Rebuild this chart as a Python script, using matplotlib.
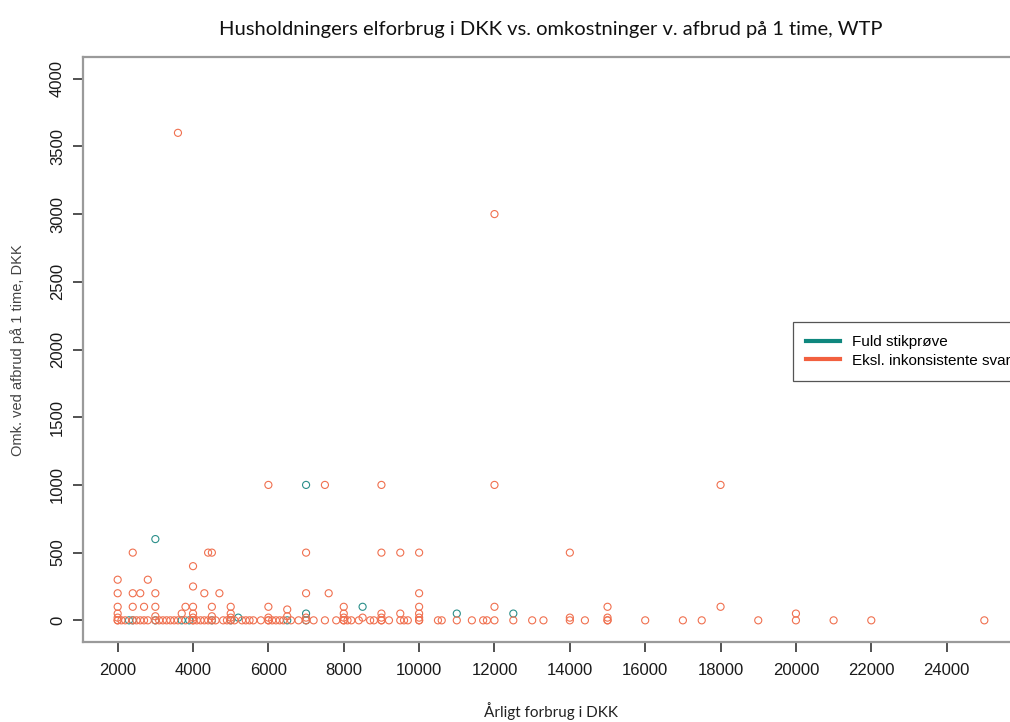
import matplotlib
matplotlib.use('Agg')
import matplotlib.pyplot as plt
from matplotlib.lines import Line2D

# fuld stikprøve - kun de punkter der ikke er med i den rensede stikprøve
full_x = [3000, 7000, 8500, 11000, 12500, 7000, 5200, 2300, 2400, 3000, 3700, 3900, 4500, 5000, 6500, 7000]
full_y = [600, 1000, 100, 50, 50, 50, 20, 0, 0, 0, 0, 0, 0, 0, 0, 0]

# eksl. inkonsistente svar, svar > 0
excl_x = [3600, 12000,
          6000, 7500, 9000, 12000, 18000,
          2400, 4400, 4500, 7000, 9000, 9500, 10000, 14000,
          4000, 2000, 2800, 4000,
          2000, 2400, 2600, 3000, 4300, 4700, 7000, 7600, 10000,
          2000, 2400, 2700, 3000, 3800, 4000, 4500, 5000, 6000, 8000, 10000, 12000, 15000, 18000,
          6500,
          2000, 2000, 3000, 3700, 4000, 4000, 4500, 5000, 5000, 6000, 6500, 7000, 8000, 8000,
          8500, 9000, 9000, 9500, 10000, 10000, 14000, 15000, 20000]
excl_y = [3600, 3000,
          1000, 1000, 1000, 1000, 1000,
          500, 500, 500, 500, 500, 500, 500, 500,
          400, 300, 300, 250,
          200, 200, 200, 200, 200, 200, 200, 200, 200,
          100, 100, 100, 100, 100, 100, 100, 100, 100, 100, 100, 100, 100, 100,
          80,
          20, 50, 30, 50, 20, 50, 30, 20, 50, 20, 30, 20, 20, 50,
          20, 20, 50, 50, 20, 50, 20, 20, 50]

# eksl. inkonsistente svar, svar = 0
excl0_x = [2000, 2000, 2100, 2200, 2400, 2500, 2600, 2700, 2800, 3000, 3100, 3200, 3300, 3400,
           3500, 3600, 3800, 4000, 4000, 4100, 4200, 4300, 4400, 4500, 4600, 4800, 4900, 5000,
           5100, 5300, 5400, 5500, 5600, 5800, 6000, 6000, 6100, 6200, 6300, 6400, 6600, 6800,
           7000, 7200, 7500, 7800, 8000, 8000, 8100, 8200, 8400, 8700, 8800, 9000, 9000, 9200,
           9500, 9600, 9700, 10000, 10000, 10500, 10600, 11000, 11400, 11700, 11800, 12000,
           12500, 13000, 13300, 14000, 14400, 15000, 15000, 16000, 17000, 17500, 19000, 20000,
           21000, 22000, 25000]
excl0_y = [0] * len(excl0_x)

xticks = list(range(2000, 26000, 2000))
yticks = list(range(0, 4500, 500))

teal = '#0f877e'
red = '#f2603f'

fig = plt.figure(figsize=(10.1, 7.22), dpi=100)
ax = fig.add_axes([83 / 1010, 80 / 722, 936 / 1010, 585 / 722])

ax.scatter(full_x, full_y, s=26, facecolors='none', edgecolors='#2b8f8a', linewidths=0.8, zorder=2)
ax.scatter(excl_x + excl0_x, excl_y + excl0_y, s=26, facecolors='none', edgecolors='#f0704f',
           linewidths=0.8, zorder=3)

ax.set_xlim(1080, 25920)
ax.set_ylim(-160, 4160)
ax.set_xticks(xticks)
ax.set_yticks(yticks)
ax.set_xticklabels([str(t) for t in xticks], family='Liberation Sans', fontsize=12, color='#1a1a1a')
ax.set_yticklabels([str(t) for t in yticks], family='Liberation Sans', fontsize=12, color='#1a1a1a',
                   rotation=90, va='center')
ax.tick_params(axis='x', length=7, width=1.1, color='#222222', pad=8)
ax.tick_params(axis='y', length=7, width=1.1, color='#222222', pad=6)
for s in ax.spines.values():
    s.set_color('#9a9a9a')
    s.set_linewidth(1.6)

fig.text(551 / 1010, 1 - 29 / 722, 'Husholdningers elforbrug i DKK vs. omkostninger v. afbrud på 1 time, WTP',
         ha='center', va='center', family='Lato', fontsize=14.5, color='#111111')
fig.text(551 / 1010, 1 - 711 / 722, 'Årligt forbrug i DKK', ha='center', va='center',
         family='Lato', fontsize=11, color='#222222')
fig.text(18 / 1010, 1 - 350 / 722, 'Omk. ved afbrud på 1 time, DKK', ha='center', va='center',
         rotation=90, family='Liberation Sans', fontsize=10.5, color='#444444')

handles = [Line2D([], [], color=teal, lw=3), Line2D([], [], color=red, lw=3)]
leg = fig.legend(handles, ['Fuld stikprøve', 'Eksl. inkonsistente svar'],
                 loc='upper left', bbox_to_anchor=(793 / 1010, 1 - 322 / 722),
                 prop={'family': 'Liberation Sans', 'size': 11}, frameon=True, fancybox=False,
                 edgecolor='#555555', framealpha=1, borderaxespad=0, borderpad=0.85,
                 handlelength=2.2, handletextpad=0.8, labelspacing=0.3)
leg.get_frame().set_linewidth(0.9)

fig.savefig('out.png', dpi=100)
